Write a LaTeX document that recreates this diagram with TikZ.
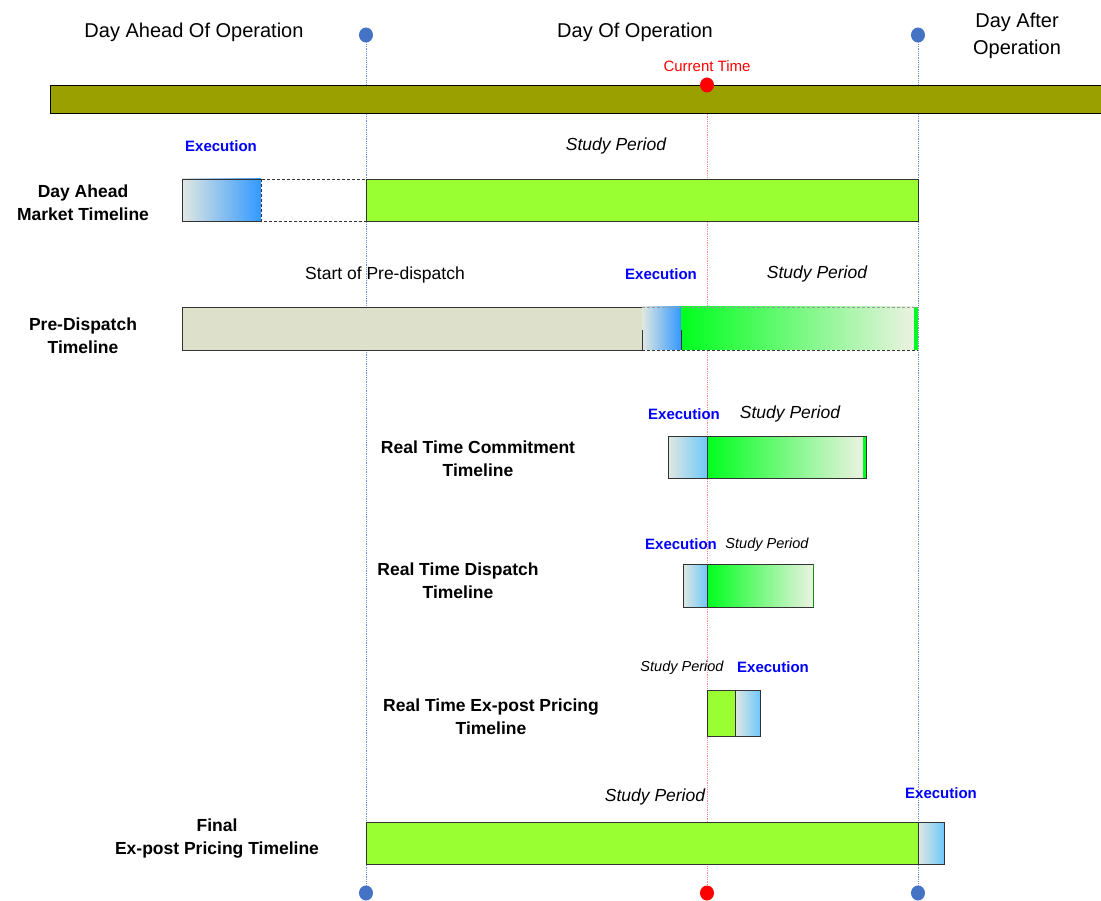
\documentclass[tikz,border=0pt]{standalone}
\usepackage{fontspec}
\setmainfont{Liberation Sans}
\usepackage{tikz}
\usetikzlibrary{positioning,shapes.geometric}

\definecolor{olivebar}{RGB}{153,160,0}
\definecolor{limebar}{RGB}{153,255,51}
\definecolor{dotblue}{RGB}{68,114,196}
\definecolor{execblue}{RGB}{51,153,255}
\definecolor{execsky}{RGB}{110,200,250}
\definecolor{execpale}{RGB}{225,232,225}
\definecolor{pdgrey}{RGB}{221,224,203}
\definecolor{studygreen}{RGB}{0,255,30}
\definecolor{studypale}{RGB}{236,242,226}
\definecolor{labelblue}{RGB}{0,0,255}

\begin{document}
\begin{tikzpicture}[x=1pt, y=-1pt,
    daytext/.style={font=\fontsize{20}{27}\selectfont, align=center},
    rowlabel/.style={font=\bfseries\fontsize{17.5}{23}\selectfont, align=center},
    exectext/.style={text=labelblue, font=\bfseries\fontsize{15}{18}\selectfont},
    studytext/.style={font=\itshape\fontsize{17.5}{20}\selectfont},
    smallstudy/.style={font=\itshape\fontsize{14.5}{17}\selectfont},
    timedot/.style={ellipse, fill=dotblue, inner sep=0pt, minimum width=14pt, minimum height=15pt},
    nowdot/.style={ellipse, fill=red, inner sep=0pt, minimum width=14pt, minimum height=15pt},
    bar/.style={draw=black!80, line width=0.8pt},
    dayline/.style={dotblue!80, densely dotted, line width=0.8pt},
    nowline/.style={red!45, densely dotted, line width=0.8pt}]
    \useasboundingbox (0,0) rectangle (1101,901);

    % Day boundaries and current time
    \coordinate (startTop) at (366,35);
    \coordinate (startBot) at (366,893);
    \coordinate (endTop) at (918,35);
    \coordinate (endBot) at (918,893);
    \coordinate (nowTop) at (707,85);
    \coordinate (nowBot) at (707,893);
    \draw[dayline] (startTop) -- (startBot);
    \draw[dayline] (endTop) -- (endBot);
    \draw[nowline] (nowTop) -- (nowBot);

    % Day headers
    \node[daytext] (ahead) at (194,32) {Day Ahead Of Operation};
    \node[daytext] (today) at (635,32) {Day Of Operation};
    \node[daytext] (after) at (1017,36) {Day After\\Operation};
    \node[text=red, font=\fontsize{15}{18}\selectfont] (nowtext) at (707,66) {Current Time};

    % Main time axis
    \fill[olivebar] (50,85) rectangle (1101,113);
    \draw[line width=0.8pt] (1101,85) -- (50,85) -- (50,113) -- (1101,113);

    % Day Ahead Market
    \node[rowlabel] (damLabel) at (83,203) {Day Ahead\\Market Timeline};
    \shade[left color=execpale, right color=execblue] (182,179) rectangle (261,221);
    \draw[bar] (261,179) -- (182,179) -- (182,221) -- (261,221);
    \draw[black!80, densely dashed, line width=0.8pt] (261,179) rectangle (366,221);
    \draw[bar, fill=limebar] (366,179) rectangle (918,221);
    \node[exectext] (damExec) at (221,146) {Execution};
    \node[studytext] (damStudy) at (616,146) {Study Period};

    % Pre-Dispatch
    \node[rowlabel] (pdLabel) at (83,336) {Pre-Dispatch\\Timeline};
    \draw[bar, fill=pdgrey] (182,307) rectangle (642,350);
    \shade[left color=execpale, right color=execblue] (642,307) rectangle (681,350);
    \shade[left color=studygreen, right color=studypale] (681,307) rectangle (914,350);
    \fill[studygreen] (914,307) rectangle (918,350);
    \draw[black!40, densely dashed, line width=0.8pt] (642,307) -- (918,307);
    \draw[black!80, densely dashed, line width=0.8pt] (642,350) -- (918,350);
    \draw[bar] (642,330) -- (642,350);
    \draw[bar] (681,330) -- (681,350);
    \node[font=\fontsize{17.5}{20}\selectfont] (pdStart) at (385,275) {Start of Pre-dispatch};
    \node[exectext] (pdExec) at (661,274) {Execution};
    \node[studytext] (pdStudy) at (817,274) {Study Period};

    % Real Time Commitment
    \node[rowlabel] (rtcLabel) at (478,459) {Real Time Commitment\\Timeline};
    \shade[left color=execpale, right color=execsky] (668,436) rectangle (707,478);
    \shade[left color=studygreen, right color=studypale] (707,436) rectangle (863,478);
    \fill[studygreen] (863,436) rectangle (866,478);
    \draw[bar] (668,436) rectangle (866,478);
    \draw[bar] (707,436) -- (707,478);
    \node[exectext] (rtcExec) at (684,414) {Execution};
    \node[studytext] (rtcStudy) at (790,414) {Study Period};

    % Real Time Dispatch
    \node[rowlabel] (rtdLabel) at (458,581) {Real Time Dispatch\\Timeline};
    \shade[left color=execpale, right color=execsky] (683,564) rectangle (707,607);
    \shade[left color=studygreen, right color=studypale] (707,564) rectangle (813,607);
    \draw[bar] (683,564) rectangle (813,607);
    \draw[green!60!black, line width=0.8pt] (813,564) -- (813,607);
    \draw[bar] (707,564) -- (707,607);
    \node[exectext] (rtdExec) at (681,544) {Execution};
    \node[smallstudy] (rtdStudy) at (767,545) {Study Period};

    % Real Time Ex-post Pricing
    \node[rowlabel] (rtpLabel) at (491,717) {Real Time Ex-post Pricing\\Timeline};
    \draw[bar, fill=limebar] (707,690) rectangle (735,736);
    \shade[left color=execpale, right color=execsky] (735,690) rectangle (760,736);
    \draw[bar] (735,690) rectangle (760,736);
    \node[smallstudy] (rtpStudy) at (682,668) {Study Period};
    \node[exectext] (rtpExec) at (773,667) {Execution};

    % Final Ex-post Pricing
    \node[rowlabel] (fepLabel) at (217,839) {Final\\Ex-post Pricing Timeline};
    \draw[bar, fill=limebar] (366,822) rectangle (918,864);
    \shade[left color=execpale, right color=execsky] (918,822) rectangle (944,864);
    \draw[bar] (918,822) rectangle (944,864);
    \node[studytext] (fepStudy) at (655,797) {Study Period};
    \node[exectext] (fepExec) at (941,793) {Execution};

    % Markers
    \node[timedot] (startDot) at (startTop) {};
    \node[timedot] (endDot) at (endTop) {};
    \node[timedot] (startDotB) at (startBot) {};
    \node[timedot] (endDotB) at (endBot) {};
    \node[nowdot] (nowDot) at (nowTop) {};
    \node[nowdot] (nowDotB) at (nowBot) {};
\end{tikzpicture}
\end{document}
